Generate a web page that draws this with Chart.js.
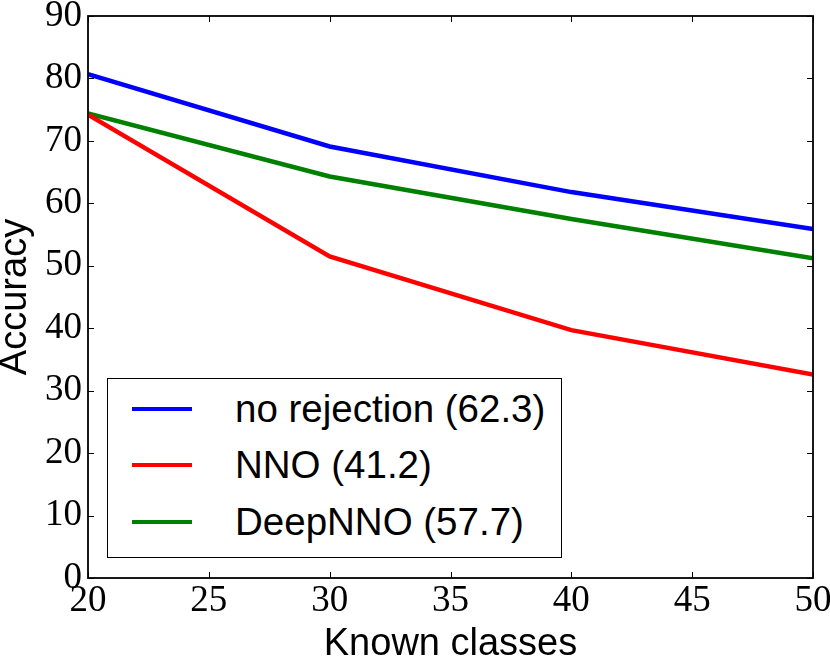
<!DOCTYPE html>
<html>
<head>
<meta charset="utf-8">
<script src="https://cdn.jsdelivr.net/npm/chart.js@4"></script>
<style>
  body { margin: 0; background: #fff; }
  #wrap { position: relative; width: 830px; height: 658px; }
  #legendBox {
    position: absolute; left: 107px; top: 378px; width: 453px; height: 178px;
    border: 1.6px solid #000; background: #fff;
    font-family: "Liberation Sans", Arial, sans-serif; font-size: 38.5px; color: #000;
  }
  .row { position: absolute; left: 0; height: 40px; display: flex; align-items: center; line-height: 40px; }
  .swatch { position: absolute; left: 24px; width: 60px; height: 4px; }
  .txt { position: absolute; left: 127px; white-space: nowrap; }
</style>
</head>
<body>
<div id="wrap">
  <canvas id="myChart" width="830" height="658"></canvas>
  <div id="legendBox"></div>
</div>
<script>
// values
var knownClasses = [20, 30, 40, 50];
var noRejection = [80.7, 69.1, 61.8, 55.9];
var nno = [74.2, 51.5, 39.7, 32.6];
var deepNno = [74.4, 64.3, 57.5, 51.2];

var seriesLabels = ['no rejection (62.3)', 'NNO (41.2)', 'DeepNNO (57.7)'];
var seriesColors = ['#0000ff', '#ff0000', '#008000'];

var xTickValues = [20, 25, 30, 35, 40, 45, 50];
var yTickValues = [0, 10, 20, 30, 40, 50, 60, 70, 80, 90];

function toPoints(vals) {
    return vals.map(function(v, i) { return {x: knownClasses[i], y: v}; });
}

// matplotlib-like frame with inward ticks on every side
var frame = {
    id: 'frame',
    afterDraw: function(chart) {
        var ctx = chart.ctx, a = chart.chartArea;
        var xs = chart.scales.x, ys = chart.scales.y;
        ctx.save();
        ctx.strokeStyle = '#000';
        ctx.lineWidth = 1;
        xTickValues.forEach(function(v) {
            var px = Math.round(xs.getPixelForValue(v)) + 0.5;
            ctx.beginPath();
            ctx.moveTo(px, a.bottom); ctx.lineTo(px, a.bottom - 6);
            ctx.moveTo(px, a.top); ctx.lineTo(px, a.top + 6);
            ctx.stroke();
        });
        yTickValues.forEach(function(v) {
            var py = Math.round(ys.getPixelForValue(v)) + 0.5;
            ctx.beginPath();
            ctx.moveTo(a.left, py); ctx.lineTo(a.left + 6, py);
            ctx.moveTo(a.right, py); ctx.lineTo(a.right - 6, py);
            ctx.stroke();
        });
        ctx.lineWidth = 1.8;
        ctx.strokeRect(a.left, a.top, a.right - a.left, a.bottom - a.top);
        ctx.restore();
    }
};

var datasets = [noRejection, nno, deepNno].map(function(vals, i) {
    return {
        label: seriesLabels[i],
        data: toPoints(vals),
        borderColor: seriesColors[i],
        backgroundColor: seriesColors[i],
        borderWidth: 4.5,
        pointRadius: 0,
        tension: 0,
        fill: false
    };
});

var ctx = document.getElementById('myChart');
var myChart = new Chart(ctx, {
    type: 'line',
    data: { datasets: datasets },
    options: {
        responsive: false,
        animation: false,
        layout: { padding: { top: 16, right: 17, left: 0, bottom: 0 } },
        plugins: { legend: { display: false }, tooltip: { enabled: false } },
        scales: {
            x: {
                type: 'linear',
                min: 20, max: 50,
                afterBuildTicks: function(s) { s.ticks = xTickValues.map(function(v) { return {value: v}; }); },
                afterFit: function(s) {
                    s.height = 80;
                    s.paddingLeft = 0; s.paddingRight = 0;
                },
                grid: { display: false, drawTicks: false },
                border: { display: false },
                ticks: {
                    color: '#000', padding: 1, maxRotation: 0, autoSkip: false,
                    font: { family: '"Liberation Serif", serif', size: 37 }
                },
                title: {
                    display: true, text: 'Known classes', color: '#000',
                    padding: 0,
                    font: { family: '"Liberation Sans", Arial, sans-serif', size: 38, lineHeight: 0.7 }
                }
            },
            y: {
                min: 0, max: 90,
                afterBuildTicks: function(s) { s.ticks = yTickValues.map(function(v) { return {value: v}; }); },
                afterFit: function(s) {
                    s.width = 88;
                    s.paddingTop = 0; s.paddingBottom = 0;
                },
                grid: { display: false, drawTicks: false },
                border: { display: false },
                ticks: {
                    color: '#000', padding: 6, autoSkip: false,
                    font: { family: '"Liberation Serif", serif', size: 37, lineHeight: 0.8 }
                },
                title: {
                    display: true, text: 'Accuracy', color: '#000',
                    padding: 0,
                    font: { family: '"Liberation Sans", Arial, sans-serif', size: 38, lineHeight: 0.8 }
                }
            }
        }
    },
    plugins: [frame]
});

// legend inside the plot, lower left
var box = document.getElementById('legendBox');
var rowTops = [10, 66, 123];
seriesLabels.forEach(function(lbl, i) {
    var row = document.createElement('div');
    row.className = 'row';
    row.style.top = rowTops[i] + 'px';
    row.style.width = '100%';
    var sw = document.createElement('div');
    sw.className = 'swatch';
    sw.style.background = seriesColors[i];
    sw.style.top = '18px';
    var t = document.createElement('span');
    t.className = 'txt';
    t.textContent = lbl;
    row.appendChild(sw);
    row.appendChild(t);
    box.appendChild(row);
});
</script>
</body>
</html>
